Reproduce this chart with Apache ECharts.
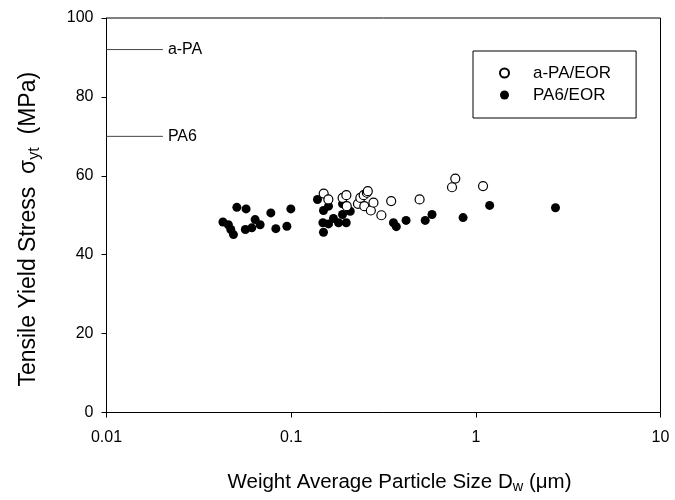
<!DOCTYPE html>
<html>
<head>
<meta charset="utf-8">
<script src="https://cdn.jsdelivr.net/npm/echarts@6/dist/echarts.min.js"></script>
<style>
  html, body { margin: 0; padding: 0; background: #fff; }
  #chart { width: 675px; height: 500px; }
</style>
</head>
<body>
<div id="chart"></div>
<script>
// a-PA/EOR blends (open circles): [Dw (um), yield stress (MPa)]
var apaEor = [
  [0.150, 55.5], [0.159, 54.0], [0.190, 54.4], [0.199, 55.1], [0.200, 52.3],
  [0.230, 52.9], [0.237, 54.4], [0.247, 55.1], [0.257, 55.7], [0.260, 56.1],
  [0.249, 52.3], [0.270, 51.2], [0.279, 53.2], [0.308, 50.0], [0.348, 53.6],
  [0.496, 54.0], [0.743, 57.1], [0.774, 59.3], [1.094, 57.4]
];

// PA6/EOR blends (filled circles)
var pa6Eor = [
  [0.0427, 48.3], [0.0457, 47.6], [0.0471, 46.4], [0.0487, 45.1], [0.0508, 52.0],
  [0.0570, 51.6], [0.0565, 46.4], [0.0612, 46.8], [0.0638, 48.9], [0.0679, 47.6],
  [0.0776, 50.6], [0.0826, 46.6], [0.0948, 47.2], [0.0996, 51.6], [0.1388, 54.0],
  [0.1496, 51.2], [0.1593, 52.3], [0.1485, 48.1], [0.1593, 47.8], [0.1695, 49.2],
  [0.1805, 48.1], [0.1496, 45.7], [0.1897, 52.9], [0.1897, 50.2], [0.1987, 48.1],
  [0.2089, 51.0], [0.358, 48.1], [0.371, 47.1], [0.419, 48.7], [0.532, 48.7],
  [0.579, 50.2], [0.853, 49.4], [1.188, 52.5], [2.70, 51.9]
];

// neat polymer reference levels
var refNames = ["a-PA", "PA6"];
var refValues = [92, 70];
var refSpan = [0.01, 0.0202];

var xTicks = [0.01, 0.1, 1, 10];
var yTicks = [0, 20, 40, 60, 80, 100];

var font = "Liberation Sans, Arial, sans-serif";

var refSeries = refNames.map(function (nombre, i) {
  return {
    name: nombre,
    type: "line",
    silent: true,
    symbol: "none",
    lineStyle: { color: "#444", width: 1 },
    data: refSpan.map(function (x) { return [x, refValues[i]]; }),
    endLabel: {
      show: true,
      formatter: nombre,
      color: "#000",
      fontFamily: font,
      fontSize: 16,
      distance: 5
    }
  };
});

var option = {
  animation: false,
  backgroundColor: "#fff",
  grid: {
    left: 106.5,
    right: 14.5,
    top: 18,
    bottom: 87.5,
    show: true,
    borderColor: "#000",
    borderWidth: 1,
    backgroundColor: "transparent"
  },
  legend: {
    data: ["a-PA/EOR", "PA6/EOR"],
    orient: "vertical",
    left: 473,
    top: 51,
    padding: [12, 25, 13, 26],
    itemGap: 2,
    itemWidth: 9,
    itemHeight: 9,
    borderColor: "#000",
    borderWidth: 1,
    textStyle: {
      color: "#000",
      fontFamily: font,
      fontSize: 17,
      lineHeight: 20,
      padding: [0, 0, 0, 19]
    }
  },
  xAxis: {
    type: "log",
    logBase: 10,
    min: xTicks[0],
    max: xTicks[xTicks.length - 1],
    name: "Weight Average Particle Size D{sub|w} (\u03bcm)",
    nameLocation: "middle",
    nameGap: 57,
    nameTextStyle: {
      color: "#000",
      fontFamily: font,
      fontSize: 20.5,
      padding: [0, 0, 0, 32],
      rich: {
        sub: { fontFamily: font, fontSize: 14.5, color: "#000", padding: [10, 0, 0, 0] }
      }
    },
    axisLine: { show: true, onZero: false, lineStyle: { color: "#000", width: 1 } },
    axisTick: { show: true, inside: false, length: 5, lineStyle: { color: "#000" } },
    minorTick: { show: false },
    splitLine: { show: false },
    axisLabel: {
      color: "#000",
      fontFamily: font,
      fontSize: 16,
      margin: 17,
      formatter: function (v) {
        var r = xTicks.find(function (t) { return Math.abs(t - v) / t < 1e-6; });
        return r === undefined ? "" : String(r);
      }
    }
  },
  yAxis: {
    type: "value",
    min: yTicks[0],
    max: yTicks[yTicks.length - 1],
    interval: 20,
    name: "Tensile Yield Stress  \u03c3{sub|yt}  (MPa)",
    nameLocation: "middle",
    nameGap: 64,
    nameTextStyle: {
      color: "#000",
      fontFamily: font,
      fontSize: 23,
      padding: [0, 28, 0, 0],
      rich: {
        sub: { fontFamily: font, fontSize: 16, color: "#000", padding: [11, 0, 0, 0] }
      }
    },
    axisLine: { show: true, lineStyle: { color: "#000", width: 1 } },
    axisTick: { show: true, inside: false, length: 5, lineStyle: { color: "#000" } },
    splitLine: { show: false },
    axisLabel: {
      color: "#000",
      fontFamily: font,
      fontSize: 16,
      margin: 13
    }
  },
  series: [
    {
      name: "a-PA/EOR",
      type: "scatter",
      symbol: "circle",
      symbolSize: 9,
      itemStyle: { color: "#fff", borderColor: "#000", borderWidth: 1.2, opacity: 1 },
      data: apaEor,
      z: 3
    },
    {
      name: "PA6/EOR",
      type: "scatter",
      symbol: "circle",
      symbolSize: 9,
      itemStyle: { color: "#000", borderColor: "#000", borderWidth: 0, opacity: 1 },
      data: pa6Eor,
      z: 2
    }
  ].concat(refSeries)
};

var myChart = echarts.init(document.getElementById("chart"), null, { renderer: "canvas" });
myChart.setOption(option);
</script>
</body>
</html>
